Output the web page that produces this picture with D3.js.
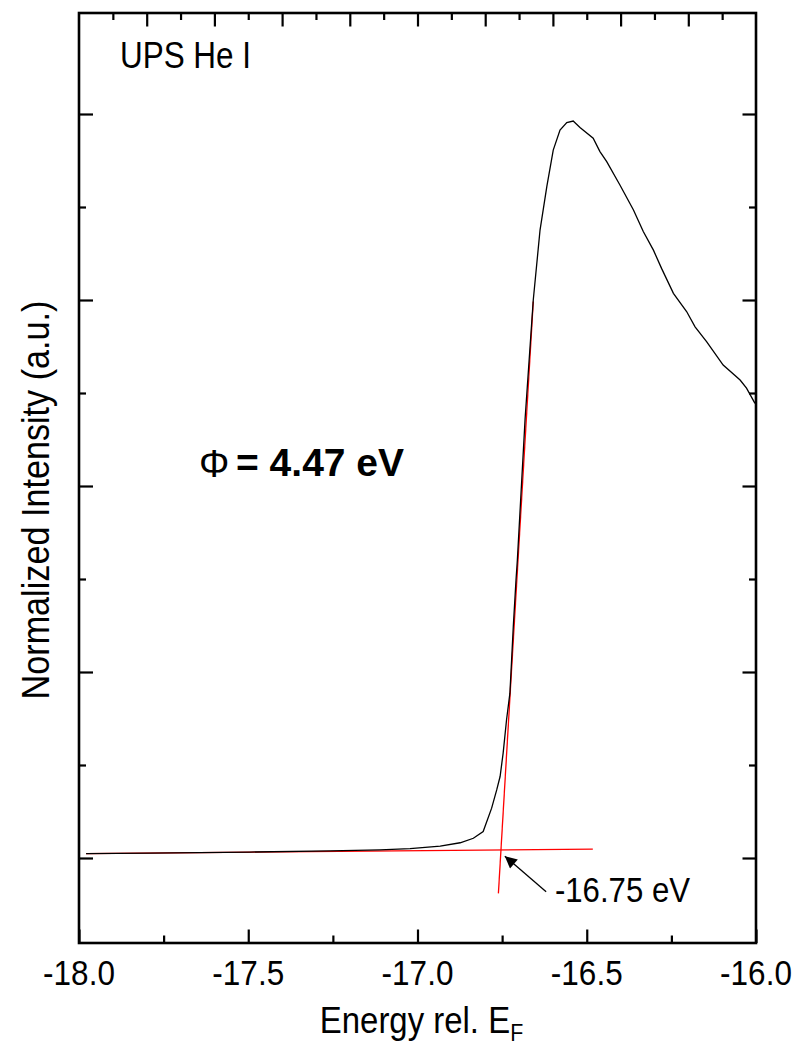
<!DOCTYPE html>
<html>
<head>
<meta charset="utf-8">
<script src="https://cdn.jsdelivr.net/npm/d3@7"></script>
<style>
  body { margin: 0; background: #fff; }
  text { font-family: "Liberation Sans", Arial, sans-serif; }
</style>
</head>
<body>
<script>
// UPS He I spectrum, secondary electron cutoff
var energy = [-17.979, -17.790, -17.495, -17.258, -17.111, -17.022, -16.933, -16.874, -16.835, -16.806,
              -16.781, -16.766, -16.756, -16.747, -16.737, -16.727, -16.722, -16.717, -16.709, -16.705,
              -16.682, -16.658, -16.638, -16.618, -16.599, -16.579, -16.559, -16.540, -16.520, -16.481,
              -16.461, -16.441, -16.402, -16.362, -16.333, -16.303, -16.279, -16.244, -16.205, -16.180,
              -16.146, -16.097, -16.047, -16.028, -16.003];
var intensity = [0.012, 0.013, 0.016, 0.019, 0.022, 0.025, 0.032, 0.041, 0.053, 0.071,
                 0.134, 0.183, 0.219, 0.282, 0.371, 0.443, 0.532, 0.622, 0.747, 0.801,
                 1.183, 1.500, 1.688, 1.805, 1.903, 1.957, 1.977, 1.981, 1.964, 1.935,
                 1.899, 1.872, 1.809, 1.742, 1.684, 1.634, 1.585, 1.518, 1.469, 1.428,
                 1.388, 1.325, 1.285, 1.263, 1.222];

// linear fits (red)
var baseFitX = [-17.979, -16.482], baseFitY = [0.0116, 0.024];
var edgeFitX = [-16.658, -16.761], edgeFitY = [1.496, -0.095];

// annotation arrow: tail -> tip
var arrowX = [-16.620, -16.742], arrowY = [-0.091, 0.005];

var xTicks = [-18.0, -17.5, -17.0, -16.5, -16.0];
var xTickLabels = ["-18.0", "-17.5", "-17.0", "-16.5", "-16.0"];
var xMinor = [-17.75, -17.25, -16.75, -16.25];
var topMajor = [-17.8, -17.6, -17.4, -17.2, -17.0, -16.8, -16.6, -16.4, -16.2];
var topMinor = [-17.9, -17.7, -17.5, -17.3, -17.1, -16.9, -16.7, -16.5, -16.3, -16.1];
var yTicks = [0, 0.5, 1.0, 1.5, 2.0];
var yMinor = [0.25, 0.75, 1.25, 1.75];

var width = 798, height = 1048;
var margin = {top: 13, right: 42, bottom: 105, left: 79};

var svg = d3.select("body").append("svg")
    .attr("width", width)
    .attr("height", height);

var x = d3.scaleLinear().domain([-18, -16]).range([margin.left, width - margin.right]);
var y = d3.scaleLinear().domain([-0.2285, 2.2715]).range([height - margin.bottom, margin.top]);

var x0 = margin.left, x1 = width - margin.right, y0 = height - margin.bottom, y1 = margin.top;

function tickAxis(axis, pos, transform, size, values) {
  var g = svg.append("g")
      .attr("transform", transform)
      .call(axis(pos).tickValues(values).tickSize(size).tickFormat(""));
  g.select(".domain").remove();
  g.selectAll(".tick line").attr("stroke", "#000").attr("stroke-width", 2.2);
  return g;
}

// inward ticks
tickAxis(d3.axisBottom, x, "translate(0," + y0 + ")", -13.5, xTicks);
tickAxis(d3.axisBottom, x, "translate(0," + y0 + ")", -7.5, xMinor);
tickAxis(d3.axisTop, x, "translate(0," + y1 + ")", -13.5, topMajor);
tickAxis(d3.axisTop, x, "translate(0," + y1 + ")", -7, topMinor);
tickAxis(d3.axisLeft, y, "translate(" + x0 + ",0)", -14, yTicks);
tickAxis(d3.axisLeft, y, "translate(" + x0 + ",0)", -7, yMinor);
tickAxis(d3.axisRight, y, "translate(" + x1 + ",0)", -13.5, yTicks);
tickAxis(d3.axisRight, y, "translate(" + x1 + ",0)", -7, yMinor);

// frame
svg.append("rect")
    .attr("x", x0).attr("y", y1)
    .attr("width", x1 - x0).attr("height", y0 - y1)
    .attr("fill", "none").attr("stroke", "#000").attr("stroke-width", 2.6);

// tick labels
svg.selectAll(".xlab")
    .data(xTicks)
  .enter().append("text")
    .attr("class", "xlab")
    .attr("transform", function(d) { return "translate(" + x(d) + ",985) scale(0.9,1)"; })
    .attr("text-anchor", "middle")
    .attr("font-size", 35)
    .text(function(d, i) { return xTickLabels[i]; });

// fit lines
var line = d3.line().x(function(d) { return x(d[0]); }).y(function(d) { return y(d[1]); });

svg.append("path")
    .datum(d3.zip(baseFitX, baseFitY))
    .attr("d", line)
    .attr("fill", "none").attr("stroke", "#ff0000").attr("stroke-width", 1.3);
svg.append("path")
    .datum(d3.zip(edgeFitX, edgeFitY))
    .attr("d", line)
    .attr("fill", "none").attr("stroke", "#ff0000").attr("stroke-width", 1.3);

// spectrum
svg.append("path")
    .datum(d3.zip(energy, intensity))
    .attr("d", line)
    .attr("fill", "none").attr("stroke", "#000").attr("stroke-width", 1.3);

// arrow
svg.append("defs").append("marker")
    .attr("id", "head")
    .attr("viewBox", "0 0 10 10")
    .attr("refX", 10).attr("refY", 5)
    .attr("markerWidth", 17).attr("markerHeight", 12)
    .attr("markerUnits", "userSpaceOnUse")
    .attr("orient", "auto")
  .append("path")
    .attr("d", "M0,0 L10,5 L0,10 Z")
    .attr("fill", "#000");

svg.append("line")
    .attr("x1", x(arrowX[0])).attr("y1", y(arrowY[0]))
    .attr("x2", x(arrowX[1])).attr("y2", y(arrowY[1]))
    .attr("stroke", "#000").attr("stroke-width", 1.3)
    .attr("marker-end", "url(#head)");

// narrow text helper
function label(px, py, str, size, sx, rot) {
  return svg.append("text")
      .attr("transform", "translate(" + px + "," + py + ")" + (rot ? " rotate(" + rot + ")" : "") + " scale(" + sx + ",1)")
      .attr("font-size", size)
      .text(str);
}

label(x(-16.594), 901.5, "-16.75 eV", 35, 0.89);
label(x(-17.879), 68, "UPS He I", 37, 0.85);

svg.append("text")
    .attr("x", 199).attr("y", 477)
    .attr("font-family", "'DejaVu Serif', 'Liberation Serif', serif")
    .attr("font-size", 38)
    .text("\u03A6");
svg.append("text")
    .attr("x", 236).attr("y", 476)
    .attr("font-size", 39)
    .attr("font-weight", "bold")
    .text("= 4.47 eV");

// axis titles
var yl = label(49, (y0 + y1) / 2 + 22, "Normalized Intensity (a.u.)", 38, 0.9, -90);
yl.attr("text-anchor", "middle");

var xl = svg.append("text")
    .attr("transform", "translate(" + ((x0 + x1) / 2 + 4) + ",1033) scale(0.89,1)")
    .attr("text-anchor", "middle")
    .attr("font-size", 37);
xl.append("tspan").text("Energy rel. E");
xl.append("tspan").attr("font-size", 24).attr("dy", 8).text("F");
</script>
</body>
</html>
